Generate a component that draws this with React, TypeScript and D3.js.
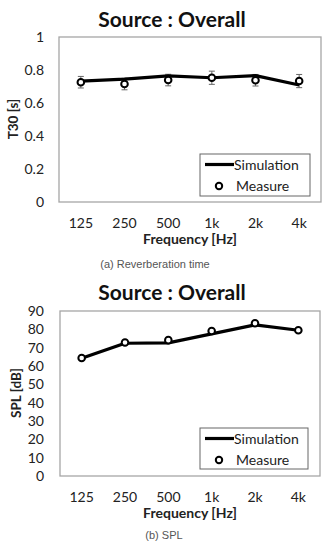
import React from 'react';
import { scaleBand, scaleLinear, line, range } from 'd3';

const bands = ['125', '250', '500', '1k', '2k', '4k'];

// reverberation time T30 [s]
const t30Sim = [0.733, 0.745, 0.764, 0.753, 0.766, 0.709];
const t30Meas = [0.726, 0.715, 0.739, 0.753, 0.738, 0.733];
const t30Err = [0.035, 0.035, 0.035, 0.04, 0.035, 0.04];
const t30Ticks = [0, 0.2, 0.4, 0.6, 0.8, 1];

// sound pressure level [dB]
const splSim = [64.2, 72.4, 72.6, 77.5, 82.4, 79.5];
const splMeas = [64.4, 72.8, 74.1, 79.1, 83.3, 79.5];
const splTicks = range(0, 91, 10);

const font = 'Lato, "Open Sans", sans-serif';

type PanelProps = {
  top: number;
  bottom: number;
  left: number;
  right: number;
  ymax: number;
  ticks: number[];
  fmt: (v: number) => string;
  sim: number[];
  meas: number[];
  err?: number[];
  ylabel: string;
  ylabelY: number;
  ylabelX: number;
  titleY: number;
  caption: string;
  captionX: number;
  captionY: number;
  legend: { x: number; y: number; w: number; h: number };
};

const Panel = (p: PanelProps) => {
  const x = scaleBand().domain(bands).range([p.left, p.right]);
  const y = scaleLinear().domain([0, p.ymax]).range([p.bottom, p.top]);
  const cx = (i: number) => (x(bands[i]) as number) + x.bandwidth() / 2;
  const path = line<number>().x((d, i) => cx(i)).y((d) => y(d))(p.sim) as string;
  const lg = p.legend;
  return (
    <g fontFamily={font}>
      <text x={172} y={p.titleY} textAnchor="middle" fontSize={21} fontWeight="bold" fill="#111">
        Source : Overall
      </text>
      <rect x={p.left} y={p.top} width={p.right - p.left} height={p.bottom - p.top}
        fill="none" stroke="#a6a6a6" strokeWidth={1.3} />
      {p.ticks.map((t) => (
        <text key={t} x={44} y={y(t) + 5} textAnchor="end" fontSize={14} fill="#222">
          {p.fmt(t)}
        </text>
      ))}
      {bands.map((b, i) => (
        <text key={b} x={cx(i)} y={p.bottom + 26} textAnchor="middle" fontSize={14} fill="#222">
          {b}
        </text>
      ))}
      <text x={190} y={p.bottom + 42} textAnchor="middle" fontSize={14} fontWeight="bold" fill="#222">
        Frequency [Hz]
      </text>
      <text transform={`translate(${p.ylabelX},${p.ylabelY}) rotate(-90)`} textAnchor="middle"
        fontSize={13.5} fontWeight="bold" fill="#222">
        {p.ylabel}
      </text>
      {p.err && p.meas.map((m, i) => {
        const e = (p.err as number[])[i];
        return (
          <g key={i} stroke="#666" strokeWidth={1}>
            <line x1={cx(i)} x2={cx(i)} y1={y(m + e)} y2={y(m - e)} />
            <line x1={cx(i) - 3} x2={cx(i) + 3} y1={y(m + e)} y2={y(m + e)} />
            <line x1={cx(i) - 3} x2={cx(i) + 3} y1={y(m - e)} y2={y(m - e)} />
          </g>
        );
      })}
      <path d={path} fill="none" stroke="#000" strokeWidth={3.2} strokeLinejoin="round" />
      {p.meas.map((m, i) => (
        <circle key={i} cx={cx(i)} cy={y(m)} r={3.3} fill="#fff" stroke="#000" strokeWidth={2} />
      ))}
      <rect x={lg.x} y={lg.y} width={lg.w} height={lg.h} fill="#fff" stroke="#666" strokeWidth={1} />
      <line x1={lg.x + 5} x2={lg.x + 34} y1={lg.y + 10.5} y2={lg.y + 10.5} stroke="#000" strokeWidth={3.2} />
      <text x={lg.x + 34} y={lg.y + 15.5} fontSize={14} fill="#222">Simulation</text>
      <circle cx={lg.x + 19} cy={lg.y + 32} r={3.2} fill="#fff" stroke="#000" strokeWidth={2} />
      <text x={lg.x + 36} y={lg.y + 36.5} fontSize={14} fill="#222">Measure</text>
      <text x={p.captionX} y={p.captionY} textAnchor="middle" fontSize={11}
        fontFamily='"Liberation Sans Narrow", "Liberation Sans", sans-serif' fill="#555">
        {p.caption}
      </text>
    </g>
  );
};

export default function App() {
  return (
    <div style={{ position: 'absolute', left: 0, top: 0 }}>
      <svg width={326} height={541} style={{ display: 'block', background: '#fff' }}>
        <Panel top={37} bottom={202} left={59} right={321} ymax={1} ticks={t30Ticks}
          fmt={(v) => String(v)} sim={t30Sim} meas={t30Meas} err={t30Err}
          ylabel="T30 [s]" ylabelX={18} ylabelY={119} titleY={27}
          caption="(a)  Reverberation time" captionX={155} captionY={268}
          legend={{ x: 200, y: 154, w: 110, h: 42 }} />
        <Panel top={311} bottom={476} left={60} right={320} ymax={90} ticks={splTicks}
          fmt={(v) => String(v)} sim={splSim} meas={splMeas}
          ylabel="SPL [dB]" ylabelX={21} ylabelY={393} titleY={300}
          caption="(b)  SPL" captionX={164} captionY={539}
          legend={{ x: 200, y: 428, w: 108, h: 41 }} />
      </svg>
    </div>
  );
}
